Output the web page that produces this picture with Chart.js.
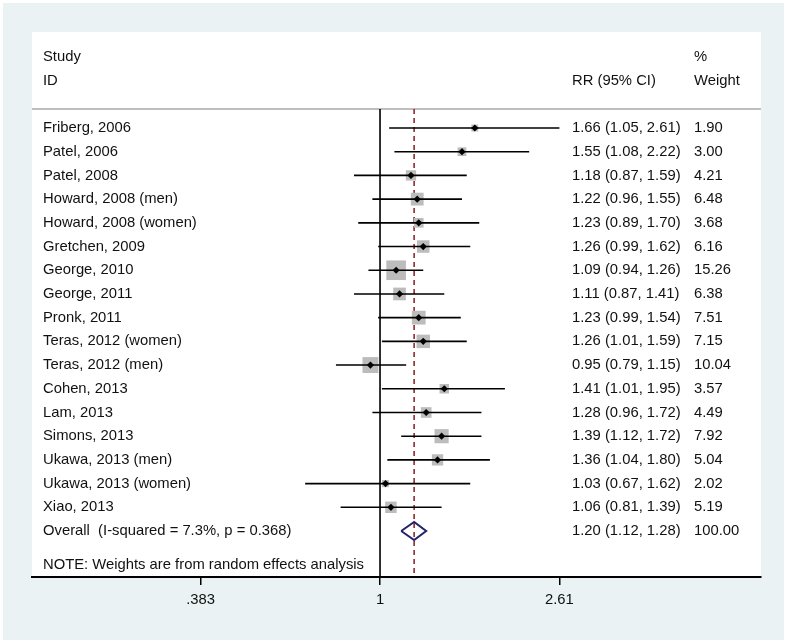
<!DOCTYPE html>
<html>
<head>
<meta charset="utf-8">
<script src="https://cdn.jsdelivr.net/npm/chart.js@4.4.0/dist/chart.umd.min.js"></script>
<style>
  html, body { margin: 0; padding: 0; background: #ffffff; }
  #wrap { width: 787px; height: 644px; position: relative; }
</style>
</head>
<body>
<div id="wrap"><canvas id="c"></canvas></div>
<script>
// ---- data ----
const studies = ["Friberg, 2006", "Patel, 2006", "Patel, 2008", "Howard, 2008 (men)", "Howard, 2008 (women)",
  "Gretchen, 2009", "George, 2010", "George, 2011", "Pronk, 2011", "Teras, 2012 (women)", "Teras, 2012 (men)",
  "Cohen, 2013", "Lam, 2013", "Simons, 2013", "Ukawa, 2013 (men)", "Ukawa, 2013 (women)", "Xiao, 2013"];
const rr     = [1.66, 1.55, 1.18, 1.22, 1.23, 1.26, 1.09, 1.11, 1.23, 1.26, 0.95, 1.41, 1.28, 1.39, 1.36, 1.03, 1.06];
const lower  = [1.05, 1.08, 0.87, 0.96, 0.89, 0.99, 0.94, 0.87, 0.99, 1.01, 0.79, 1.01, 0.96, 1.12, 1.04, 0.67, 0.81];
const upper  = [2.61, 2.22, 1.59, 1.55, 1.70, 1.62, 1.26, 1.41, 1.54, 1.59, 1.15, 1.95, 1.72, 1.72, 1.80, 1.62, 1.39];
const weight = [1.90, 3.00, 4.21, 6.48, 3.68, 6.16, 15.26, 6.38, 7.51, 7.15, 10.04, 3.57, 4.49, 7.92, 5.04, 2.02, 5.19];
const overallLabel = "Overall  (I-squared = 7.3%, p = 0.368)";
const overallRR = 1.20, overallLower = 1.12, overallUpper = 1.28, overallWeight = 100.00;
const tickValues = [0.383, 1, 2.61];
const tickLabels = [".383", "1", "2.61"];
const noteText = "NOTE: Weights are from random effects analysis";
const headerStudy = ["Study", "ID"];
const headerRR = "RR (95% CI)";
const headerWeight = ["%", "Weight"];

// ---- derived datasets ----
const nS = studies.length;
const overallRow = nS;
const ciData = [];
for (let i = 0; i < nS; i++) {
  ciData.push({x: lower[i], y: i}, {x: upper[i], y: i}, {x: null, y: null});
}
const estData = rr.map((v, i) => ({x: v, y: i}));
const sqData = rr.map((v, i) => ({x: v, y: i}));
const dh = 0.38;
const diamondData = [
  {x: overallLower, y: overallRow}, {x: overallRR, y: overallRow - dh},
  {x: overallUpper, y: overallRow}, {x: overallRR, y: overallRow + dh},
  {x: overallLower, y: overallRow}
];
const Y_MIN = -4.05, Y_MAX = 18.94, Y_SEP = -0.8;
const nullLine = [{x: 1, y: Y_SEP}, {x: 1, y: Y_MAX}];
const refLine = [{x: overallRR, y: Y_SEP}, {x: overallRR, y: Y_MAX}];

const FONT = '14.8px "Liberation Sans", Arial, sans-serif';
const fmt = v => v.toFixed(2);

const bgPlugin = {
  id: 'bg',
  beforeDraw(chart) {
    const ctx = chart.ctx, a = chart.chartArea;
    ctx.save();
    ctx.fillStyle = '#ffffff';
    ctx.fillRect(0, 0, chart.width, chart.height);
    ctx.fillStyle = '#EAF2F3';
    ctx.fillRect(3, 3, chart.width - 6, chart.height - 7);
    ctx.fillStyle = '#ffffff';
    ctx.fillRect(a.left, a.top, a.right - a.left, a.bottom - a.top);
    const ys = chart.scales.y.getPixelForValue(Y_SEP);
    ctx.strokeStyle = '#A8A8A8';
    ctx.lineWidth = 1.5;
    ctx.beginPath(); ctx.moveTo(a.left, ys); ctx.lineTo(a.right, ys); ctx.stroke();
    ctx.restore();
  }
};

const textPlugin = {
  id: 'texts',
  afterDraw(chart) {
    const ctx = chart.ctx, ys = chart.scales.y;
    ctx.save();
    ctx.font = FONT;
    ctx.fillStyle = '#111111';
    ctx.textBaseline = 'middle';
    ctx.textAlign = 'left';
    const xName = 43, xRR = 572, xW = 694;
    ctx.fillText(headerStudy[0], xName, ys.getPixelForValue(-3));
    ctx.fillText(headerStudy[1], xName, ys.getPixelForValue(-2));
    ctx.fillText(headerRR, xRR, ys.getPixelForValue(-2));
    ctx.fillText(headerWeight[0], xW, ys.getPixelForValue(-3));
    ctx.fillText(headerWeight[1], xW, ys.getPixelForValue(-2));
    for (let i = 0; i < nS; i++) {
      const y = ys.getPixelForValue(i);
      ctx.fillText(studies[i], xName, y);
      ctx.fillText(fmt(rr[i]) + " (" + fmt(lower[i]) + ", " + fmt(upper[i]) + ")", xRR, y);
      ctx.fillText(fmt(weight[i]), xW, y);
    }
    const yo = ys.getPixelForValue(overallRow);
    ctx.fillText(overallLabel, xName, yo);
    ctx.fillText(fmt(overallRR) + " (" + fmt(overallLower) + ", " + fmt(overallUpper) + ")", xRR, yo);
    ctx.fillText(fmt(overallWeight), xW, yo);
    ctx.fillText(noteText, xName, ys.getPixelForValue(18.45));
    ctx.restore();
  }
};

new Chart(document.getElementById('c'), {
  type: 'scatter',
  data: {
    datasets: [
      { label: 'RR', data: estData, showLine: false, pointStyle: 'rectRot', pointRadius: 3.6,
        backgroundColor: '#000', borderColor: '#000', borderWidth: 0 },
      { label: 'CI', data: ciData, showLine: true, spanGaps: false, pointRadius: 0,
        borderColor: '#000', borderWidth: 1.6 },
      { label: 'Overall', data: diamondData, showLine: true, pointRadius: 0, fill: false,
        borderColor: '#22226E', borderWidth: 2 },
      { label: 'Weight', data: sqData, showLine: false, pointStyle: 'rect',
        pointRadius: ctx => 3.55 * Math.sqrt(weight[ctx.dataIndex] || 0),
        backgroundColor: '#BCBCBC', borderWidth: 0 },
      { label: 'null', data: nullLine, showLine: true, pointRadius: 0, borderColor: '#000', borderWidth: 1.6 },
      { label: 'ref', data: refLine, showLine: true, pointRadius: 0, borderColor: '#8E2A2E',
        borderWidth: 1.6, borderDash: [5, 4] }
    ]
  },
  options: {
    responsive: true,
    maintainAspectRatio: false,
    animation: false,
    layout: { padding: { left: 32, top: 32, right: 26, bottom: 0 } },
    plugins: { legend: { display: false }, tooltip: { enabled: false } },
    scales: {
      x: {
        type: 'logarithmic',
        position: 'bottom',
        min: 0.1555, max: 7.67,
        bounds: 'data',
        afterBuildTicks: s => { s.ticks = tickValues.map(v => ({ value: v })); },
        afterFit: s => { s.height = 67; },
        ticks: {
          autoSkip: false, maxRotation: 0, padding: 6,
          color: '#111', font: { family: '"Liberation Sans", Arial, sans-serif', size: 14.8 },
          callback: (v, i) => tickLabels[i]
        },
        grid: { drawOnChartArea: false, drawTicks: true, tickLength: 8, color: '#000', lineWidth: 1.5 },
        border: { display: true, color: '#000', width: 2 }
      },
      y: {
        type: 'linear', display: false, reverse: true, min: Y_MIN, max: Y_MAX
      }
    }
  },
  plugins: [bgPlugin, textPlugin]
});
</script>
</body>
</html>
